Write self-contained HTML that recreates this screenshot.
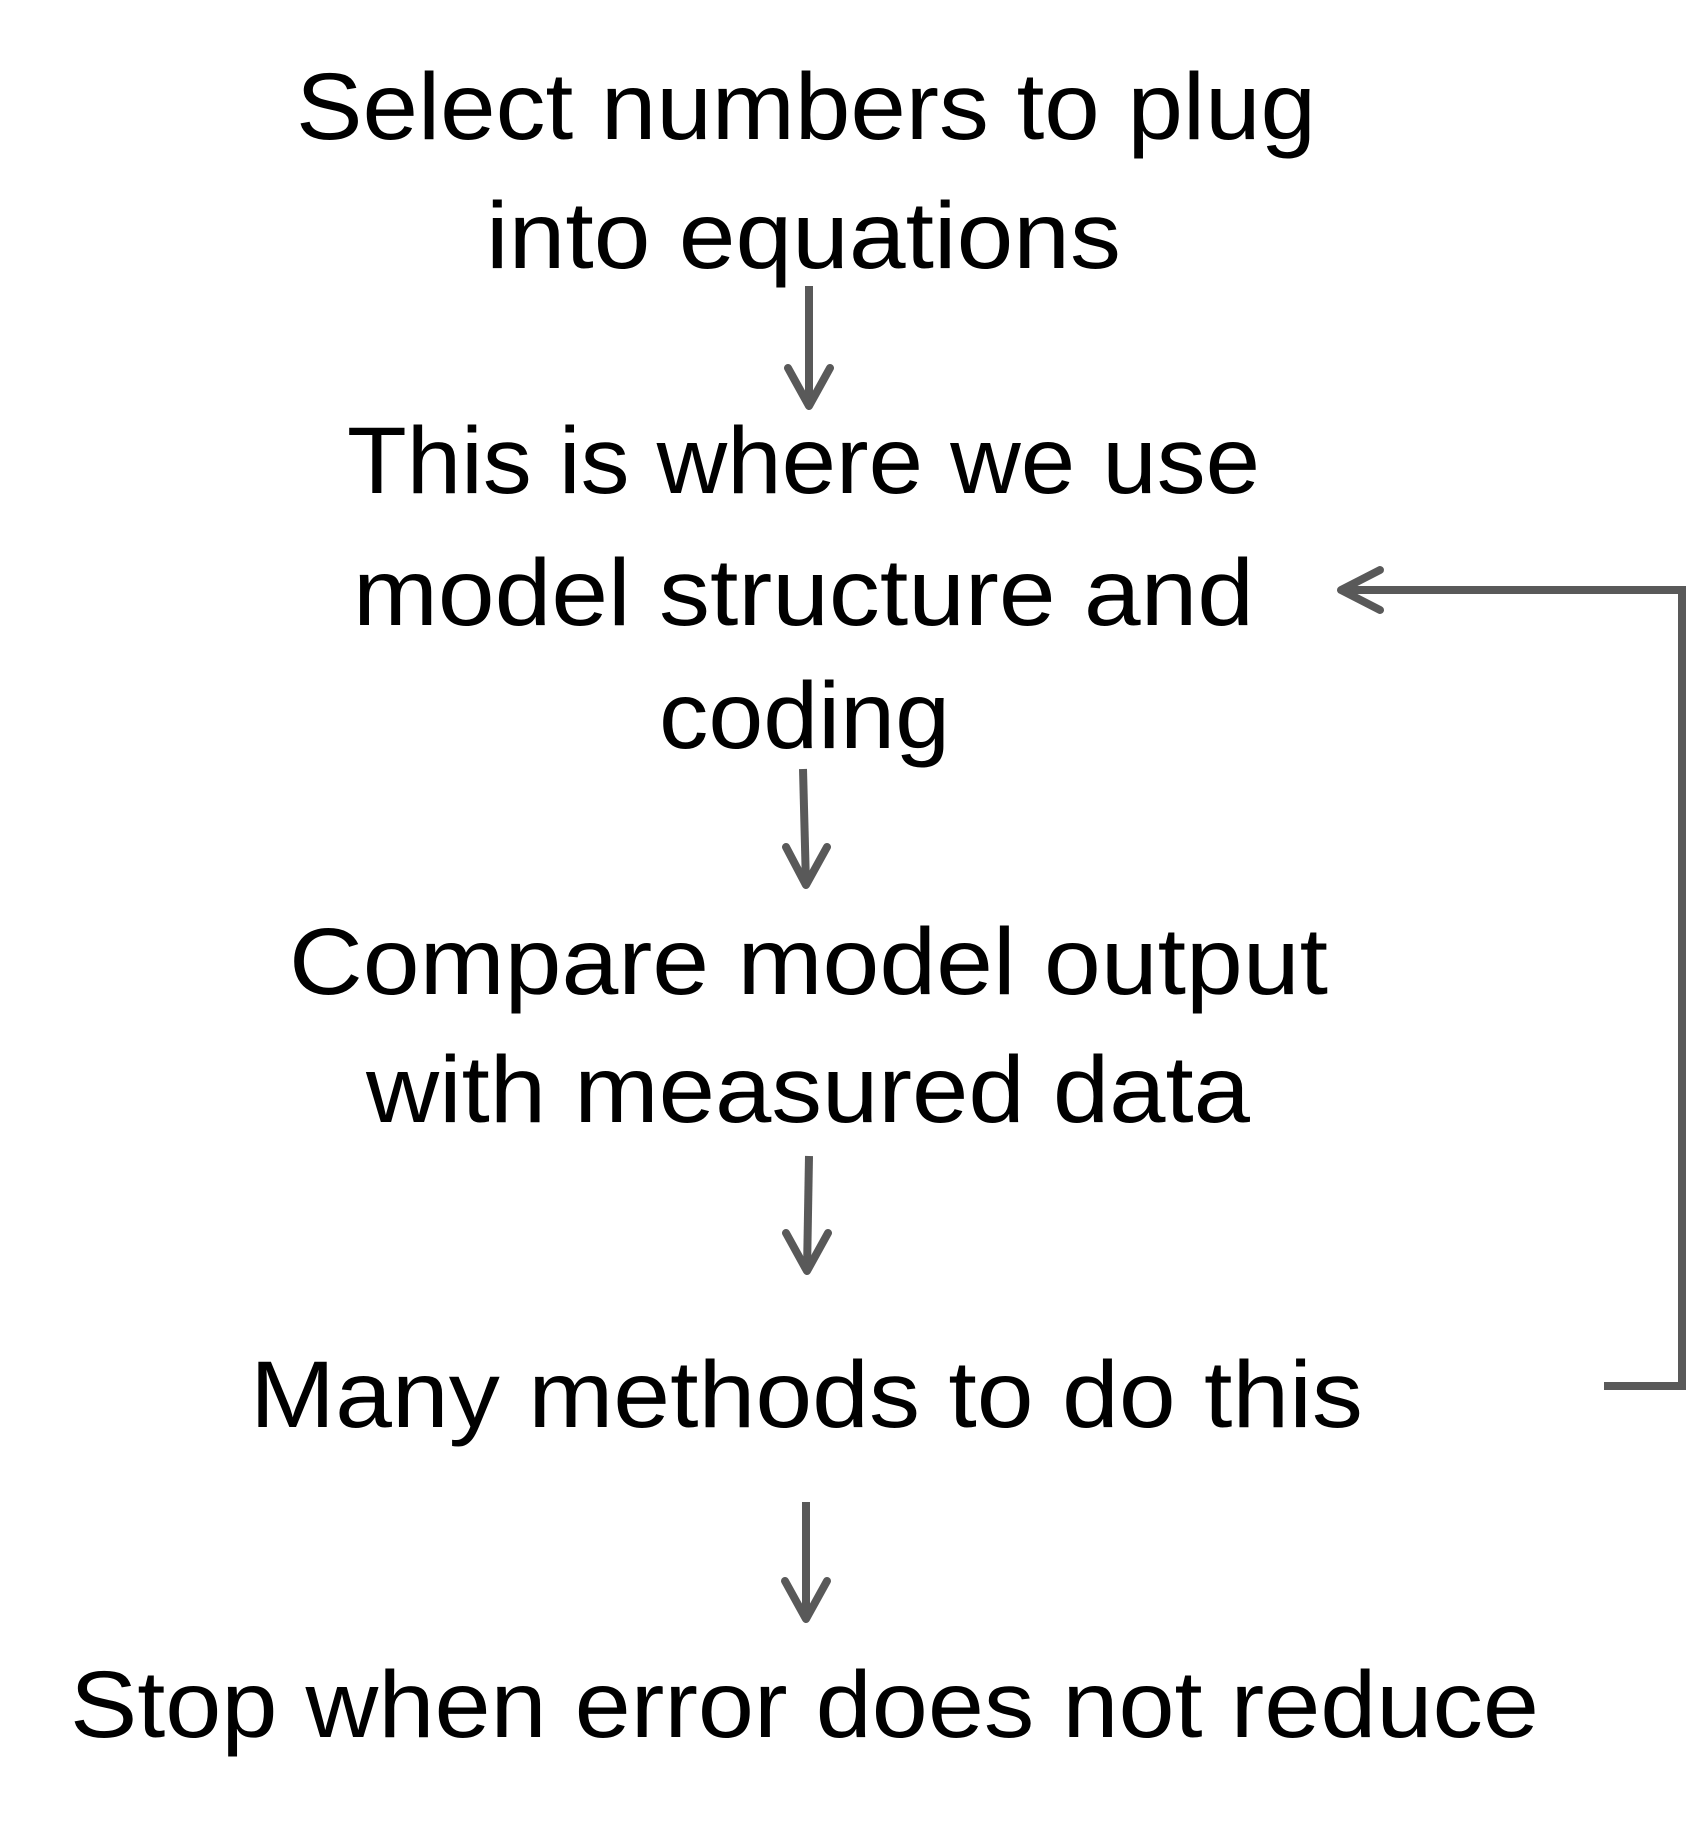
<!DOCTYPE html>
<html><head><meta charset="utf-8"><style>
html,body{margin:0;padding:0;background:#fff;}
svg{display:block;}
text{font-family:"Liberation Sans",sans-serif;font-size:95px;fill:#000;}
</style></head><body>
<svg width="1691" height="1837" viewBox="0 0 1691 1837" xmlns="http://www.w3.org/2000/svg">
<text x="296" y="139" textLength="1020" lengthAdjust="spacingAndGlyphs">Select numbers to plug</text>
<text x="486" y="268" textLength="635" lengthAdjust="spacingAndGlyphs">into equations</text>
<text x="347" y="493" textLength="913" lengthAdjust="spacingAndGlyphs">This is where we use</text>
<text x="353" y="625" textLength="901" lengthAdjust="spacingAndGlyphs">model structure and</text>
<text x="659" y="748" textLength="291" lengthAdjust="spacingAndGlyphs">coding</text>
<text x="289" y="994" textLength="1039" lengthAdjust="spacingAndGlyphs">Compare model output</text>
<text x="366" y="1122" textLength="884" lengthAdjust="spacingAndGlyphs">with measured data</text>
<text x="250" y="1427" textLength="1113" lengthAdjust="spacingAndGlyphs">Many methods to do this</text>
<text x="70" y="1737" textLength="1469" lengthAdjust="spacingAndGlyphs">Stop when error does not reduce</text>
<g stroke="#595959" stroke-width="8" fill="none" stroke-linecap="round" stroke-linejoin="round">
<line x1="809" y1="286" x2="809" y2="406" stroke-linecap="butt"/>
<polyline points="788,368 809,406 830,368"/>
<line x1="803" y1="769" x2="806" y2="885" stroke-linecap="butt"/>
<polyline points="786,847 806,885 827,847"/>
<line x1="809" y1="1156" x2="807" y2="1271" stroke-linecap="butt"/>
<polyline points="786,1233 807,1271 828,1233"/>
<line x1="806" y1="1502" x2="806" y2="1619" stroke-linecap="butt"/>
<polyline points="785,1581 806,1619 827,1581"/>
<polyline points="1604,1386 1682,1386 1682,590 1343,590" stroke-linecap="butt" stroke-linejoin="miter"/>
<polyline points="1380,570 1341,590 1380,610"/>
</g>
</svg>
</body></html>
